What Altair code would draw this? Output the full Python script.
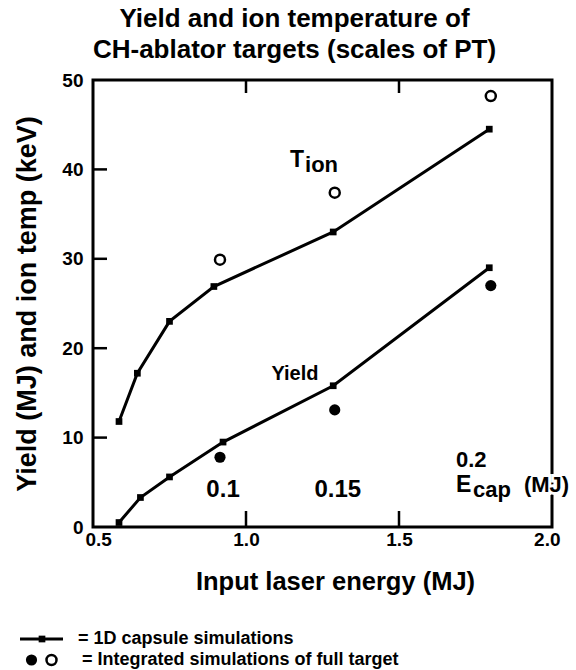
import altair as alt
import pandas as pd

# 1D capsule simulations (lines with square markers)
tion_energy = [0.585, 0.645, 0.75, 0.895, 1.285, 1.795]
tion_kev = [11.8, 17.2, 23.0, 26.9, 33.0, 44.5]
yield_energy = [0.585, 0.655, 0.75, 0.925, 1.285, 1.795]
yield_mj = [0.5, 3.3, 5.6, 9.5, 15.8, 29.0]

# integrated simulations of the full target
integrated_energy = [0.915, 1.29, 1.80]
integrated_tion = [29.9, 37.4, 48.2]
integrated_yield = [7.8, 13.1, 27.0]

# capsule energy labels beside the integrated points
cap_labels = ["0.1", "0.15"]
cap_label_energy = [0.925, 1.30]
cap_label_level = [3.4, 3.4]

x_label_values = [0.5, 1.0, 1.5, 2.0]
x_tick_values = [1.0, 1.5]
y_label_values = [0, 10, 20, 30, 40, 50]
y_tick_values = [10, 20, 30, 40]

W, H = 459, 447
FONT = "Liberation Sans"

tion_df = pd.DataFrame({"energy": tion_energy, "value": tion_kev})
yield_df = pd.DataFrame({"energy": yield_energy, "value": yield_mj})
int_tion_df = pd.DataFrame({"energy": integrated_energy, "value": integrated_tion})
int_yield_df = pd.DataFrame({"energy": integrated_energy, "value": integrated_yield})
cap_df = pd.DataFrame({"energy": cap_label_energy, "value": cap_label_level, "label": cap_labels})
xtick_df = pd.DataFrame({"energy": x_tick_values})
ytick_df = pd.DataFrame({"value": y_tick_values})

x_scale = alt.Scale(domain=[0.5, 2.0], nice=False, zero=False)
y_scale = alt.Scale(domain=[0, 50], nice=False)

# bottom axis: labels and title only (ticks are drawn inward as rules)
axis_bottom = alt.Axis(
    orient="bottom", values=x_label_values, format=".1f", ticks=False, domain=False,
    grid=False, labelPadding=3, labelFlush=True, labelFlushOffset=8, labelFont=FONT,
    labelFontSize=19, labelFontWeight="bold", labelColor="black",
    title="Input laser energy (MJ)", titleFont=FONT, titleFontSize=25.5,
    titleFontWeight="bold", titleColor="black", titlePadding=20, titleX=242,
)
# left axis: labels and title only
axis_left = alt.Axis(
    orient="left", values=y_label_values, ticks=False, domain=False, grid=False,
    labelPadding=10, labelFont=FONT, labelFontSize=19, labelFontWeight="bold",
    labelColor="black", title="Yield (MJ) and ion temp (keV)", titleFont=FONT,
    titleFontSize=27, titleFontWeight="bold", titleColor="black", titlePadding=20,
)

X = alt.X("energy:Q", scale=x_scale, axis=axis_bottom)
Y = alt.Y("value:Q", scale=y_scale, axis=axis_left)


def xy():
    return dict(x=X, y=Y)


# inward tick marks on the frame
top_ticks = alt.Chart(xtick_df).mark_rule(color="black", strokeWidth=2.5).encode(
    x=X, y=alt.value(0), y2=alt.value(13))
bottom_ticks = alt.Chart(xtick_df).mark_rule(color="black", strokeWidth=2.5).encode(
    x=X, y=alt.value(H - 16), y2=alt.value(H))
left_ticks = alt.Chart(ytick_df).mark_rule(color="black", strokeWidth=2.5).encode(
    y=Y, x=alt.value(0), x2=alt.value(14))

tion_line = alt.Chart(tion_df).mark_line(color="black", strokeWidth=3).encode(**xy())
tion_pts = alt.Chart(tion_df).mark_square(color="black", size=45, opacity=1).encode(**xy())
yield_line = alt.Chart(yield_df).mark_line(color="black", strokeWidth=3).encode(**xy())
yield_pts = alt.Chart(yield_df).mark_square(color="black", size=45, opacity=1).encode(**xy())
int_tion_pts = alt.Chart(int_tion_df).mark_point(
    shape="circle", filled=False, stroke="black", strokeWidth=2.5, size=100, opacity=1
).encode(**xy())
int_yield_pts = alt.Chart(int_yield_df).mark_circle(color="black", size=125, opacity=1).encode(**xy())

text_style = dict(font=FONT, fontWeight="bold", color="black", baseline="alphabetic")

cap_text = alt.Chart(cap_df).mark_text(fontSize=24, align="center", **text_style).encode(
    **xy(), text="label:N")

anchor = lambda e, v: pd.DataFrame({"energy": [e], "value": [v]})

# series labels
tion_T = alt.Chart(anchor(1.144, 40.3)).mark_text(fontSize=23, align="left", **text_style).encode(
    **xy(), text=alt.value("T"))
tion_sub = alt.Chart(anchor(1.144, 40.3)).mark_text(
    fontSize=22, align="left", dx=15, dy=5, **text_style).encode(**xy(), text=alt.value("ion"))
yield_label = alt.Chart(anchor(1.160, 16.4)).mark_text(
    fontSize=20, align="center", **text_style).encode(**xy(), text=alt.value("Yield"))

# capsule energy axis note
ecap_02 = alt.Chart(anchor(1.686, 6.7)).mark_text(fontSize=22, align="left", **text_style).encode(
    **xy(), text=alt.value("0.2"))
ecap_parts = [("E", 23, 0, 0), ("cap", 22, 17, 5), ("(MJ)", 22, 68, 0)]
ecap_layers = []
for txt, fs, ddx, ddy in ecap_parts:
    ecap_layers.append(alt.Chart(anchor(1.686, 3.9)).mark_text(
        fontSize=fs, align="left", dx=ddx, dy=ddy, font=FONT, fontWeight="bold",
        baseline="alphabetic", fill="white", stroke="white", strokeWidth=6,
    ).encode(**xy(), text=alt.value(txt)))
for txt, fs, ddx, ddy in ecap_parts:
    ecap_layers.append(alt.Chart(anchor(1.686, 3.9)).mark_text(
        fontSize=fs, align="left", dx=ddx, dy=ddy, **text_style
    ).encode(**xy(), text=alt.value(txt)))

# key below the plot
key_src = pd.DataFrame({"k": [0]})
key_line = alt.Chart(key_src).mark_rule(color="black", strokeWidth=3).encode(
    x=alt.value(-73), x2=alt.value(-30), y=alt.value(559))
key_square = alt.Chart(key_src).mark_square(color="black", size=45, opacity=1).encode(
    x=alt.value(-51), y=alt.value(559))
key_text1 = alt.Chart(key_src).mark_text(
    font=FONT, fontWeight="bold", fontSize=18, align="left", baseline="middle", color="black"
).encode(x=alt.value(-15), y=alt.value(559), text=alt.value("= 1D capsule simulations"))
key_dot = alt.Chart(key_src).mark_circle(color="black", size=125, opacity=1).encode(
    x=alt.value(-61.5), y=alt.value(580))
key_ring = alt.Chart(key_src).mark_point(
    shape="circle", filled=False, stroke="black", strokeWidth=2.5, size=100, opacity=1
).encode(x=alt.value(-41.5), y=alt.value(580))
key_text2 = alt.Chart(key_src).mark_text(
    font=FONT, fontWeight="bold", fontSize=18, align="left", baseline="middle", color="black"
).encode(x=alt.value(-11), y=alt.value(580),
         text=alt.value("= Integrated simulations of full target"))

chart = alt.layer(
    tion_line, top_ticks, bottom_ticks, left_ticks,
    tion_pts, yield_line, yield_pts, int_tion_pts, int_yield_pts,
    cap_text, tion_T, tion_sub, yield_label, ecap_02, *ecap_layers,
    key_line, key_square, key_text1, key_dot, key_ring, key_text2,
).properties(
    width=W,
    height=H,
    title=alt.TitleParams(
        text=["Yield and ion temperature of", "CH-ablator targets (scales of PT)"],
        font=FONT, fontSize=26, fontWeight="bold", color="black",
        anchor="middle", frame="group", dx=-28, offset=8, lineHeight=31,
    ),
    autosize=alt.AutoSizeParams(type="none"),
    padding={"left": 93, "top": 80, "right": 24, "bottom": 143},
    background="white",
).configure_view(
    stroke="black", strokeWidth=3
)

chart.save("out.html", embed_options={"renderer": "svg", "actions": False})
